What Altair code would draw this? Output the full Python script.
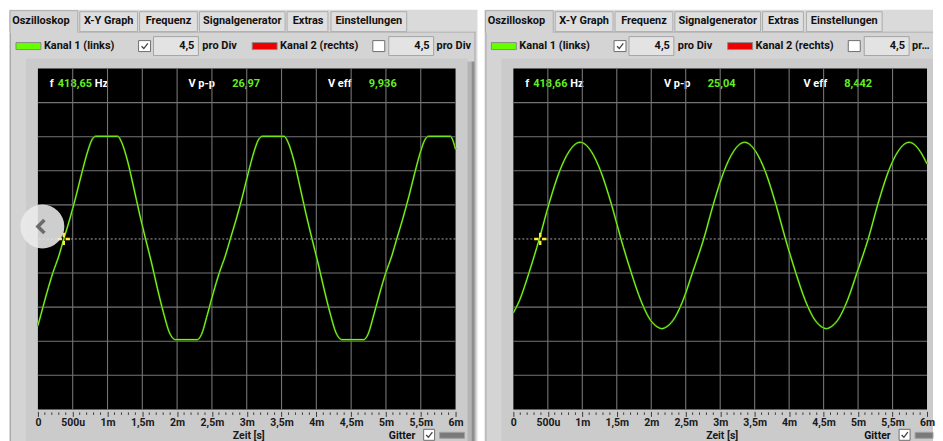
import altair as alt
import pandas as pd

# ---------------- data ----------------
# time in ms, voltage in V (4,5 V per division, 10 divisions)
left_t = [0.000, 0.043, 0.129, 0.215, 0.301, 0.372, 0.458, 0.544, 0.630, 0.716, 0.773, 0.831,
          1.146, 1.203, 1.289, 1.375, 1.461, 1.547, 1.633, 1.718, 1.804, 1.890, 1.976,
          2.291, 2.349, 2.434, 2.520, 2.606, 2.692, 2.764, 2.850, 2.936, 3.021, 3.107, 3.165, 3.222,
          3.537, 3.594, 3.680, 3.766, 3.852, 3.938, 4.024, 4.110, 4.196, 4.282, 4.368,
          4.683, 4.740, 4.826, 4.912, 4.998, 5.084, 5.155, 5.241, 5.327, 5.413, 5.499, 5.556, 5.613,
          5.928, 5.971, 6.000]
left_v = [-11.45, -10.0, -7.11, -4.47, -2.24, 0.0, 2.63, 5.53, 8.68, 11.58, 13.03, 13.55,
          13.55, 12.76, 10.26, 6.84, 3.29, 0.0, -3.16, -6.58, -9.74, -12.37, -13.29,
          -13.29, -12.63, -10.0, -7.11, -4.47, -2.24, 0.0, 2.63, 5.53, 8.68, 11.58, 13.03, 13.55,
          13.55, 12.76, 10.26, 6.84, 3.29, 0.0, -3.16, -6.58, -9.74, -12.37, -13.29,
          -13.29, -12.63, -10.0, -7.11, -4.47, -2.24, 0.0, 2.63, 5.53, 8.68, 11.58, 13.03, 13.55,
          13.55, 12.76, 11.84]
right_t = [0.000, 0.087, 0.231, 0.376, 0.520, 0.665, 0.810, 0.896, 0.969, 1.041, 1.128, 1.272,
           1.417, 1.561, 1.706, 1.851, 1.995, 2.082, 2.154, 2.226, 2.313, 2.458, 2.602, 2.761,
           2.906, 3.050, 3.195, 3.282, 3.354, 3.426, 3.513, 3.658, 3.802, 3.947, 4.092, 4.236,
           4.381, 4.467, 4.540, 4.612, 4.699, 4.843, 4.988, 5.147, 5.292, 5.436, 5.581, 5.668,
           5.740, 5.812, 5.899, 6.000]
right_v = [-9.74, -8.16, -4.34, 0.0, 4.74, 8.82, 11.58, 12.50, 12.76, 12.50, 11.58, 8.82,
           4.74, 0.0, -4.34, -8.16, -10.79, -11.58, -11.84, -11.58, -10.79, -8.16, -4.34, 0.0,
           4.74, 8.82, 11.58, 12.50, 12.76, 12.50, 11.58, 8.82, 4.74, 0.0, -4.34, -8.16,
           -10.79, -11.58, -11.84, -11.58, -10.79, -8.16, -4.34, 0.0, 4.74, 8.82, 11.58, 12.50,
           12.76, 12.50, 11.58, 9.9]

x_major = [0, 0.5, 1, 1.5, 2, 2.5, 3, 3.5, 4, 4.5, 5, 5.5, 6]
x_labels = ["0", "500u", "1m", "1,5m", "2m", "2,5m", "3m", "3,5m", "4m", "4,5m", "5m", "5,5m", "6m"]
x_minor = [round(i * 0.1, 1) for i in range(61) if i % 5]
v_grid = [-18, -13.5, -9, -4.5, 4.5, 9, 13.5, 18]
t_grid = [0.5, 1, 1.5, 2, 2.5, 3, 3.5, 4, 4.5, 5, 5.5]

tabs = ["Oszilloskop", "X-Y Graph", "Frequenz", "Signalgenerator", "Extras", "Einstellungen"]
freq = ["418,65", "418,66"]
vpp = ["26,97", "25,04"]
veff = ["9,936", "8,442"]
per_div = ["4,5", "4,5"]
cursor_t = [0.372, 0.39]
x_title = "Zeit [s]"

FONT = "Roboto"
H = 342
BOTTOM = 374          # lowest pixel row of the canvas, relative to plot top
GREEN = "#66ee22"
xs = alt.Scale(domain=[0, 6], nice=False, zero=False)
ys = alt.Scale(domain=[-22.5, 22.5], nice=False, zero=False)
label_expr = "[" + ",".join("'%s'" % s for s in x_labels) + "][round(datum.value*2)]"
X_AXIS = alt.Axis(
    values=x_major, labelExpr=label_expr, grid=False, domain=False, tickSize=5,
    tickColor="#3a3a3a", tickWidth=1, offset=2, labelFont=FONT, labelFontWeight="bold",
    labelFontSize=10.5, labelColor="#1a1a1a", labelPadding=1, labelFlush=False,
    labelOverlap=False, title=None, zindex=2)


def X():
    return alt.X("t:Q", scale=xs, axis=X_AXIS)


def Y():
    return alt.Y("v:Q", scale=ys, axis=None)


def rect_layer(rows):
    df = pd.DataFrame(rows, columns=["x", "x2", "y", "y2", "fill", "stroke"])
    return alt.Chart(df).mark_rect(strokeWidth=1).encode(
        x=alt.X("x:Q", scale=None, axis=None), x2="x2:Q",
        y=alt.Y("y:Q", scale=None, axis=None), y2="y2:Q",
        fill=alt.Fill("fill:N", scale=None, legend=None),
        stroke=alt.Stroke("stroke:N", scale=None, legend=None),
    )


def text_layer(rows, align, baseline="middle", limit=None):
    df = pd.DataFrame(rows, columns=["x", "y", "label", "color", "size"])
    kw = dict(align=align, baseline=baseline, font=FONT, fontWeight="bold")
    if limit:
        kw.update(limit=limit, ellipsis="")
    return alt.Chart(df).mark_text(**kw).encode(
        x=alt.X("x:Q", scale=None, axis=None),
        y=alt.Y("y:Q", scale=None, axis=None),
        text="label:N",
        color=alt.Color("color:N", scale=None, legend=None),
        size=alt.Size("size:Q", scale=None, legend=None),
    )


def shape_layer(rows, path, size, color, sw):
    df = pd.DataFrame(rows, columns=["x", "y"])
    return alt.Chart(df).mark_point(shape=path, size=size, filled=False, color=color,
                                    strokeWidth=sw, opacity=1).encode(
        x=alt.X("x:Q", scale=None, axis=None),
        y=alt.Y("y:Q", scale=None, axis=None),
    )


def panel(i, wt, wv, w, clip, overlay):
    R = w + 12
    T = "transparent"
    raw = [
        (-29, R + 10, -59, BOTTOM, "#dadada", T),
        (-28, R + 8, -37, BOTTOM, "#d4d4d4", T),
        (-28, -27, -37, BOTTOM, "#a8a8a8", T),
        (-28, R + 8, -37, -36, "#a8a8a8", T),
        (R + 7, R + 8, -37, BOTTOM, "#a8a8a8", T),
        (-12, R, -10, BOTTOM, "#cbcbcb", T),
        (R, R + 4, -7, BOTTOM, "#b4b4b4", T),
        (R + 4, R + 7, -7, BOTTOM, "#8e8e8e", T),
    ]
    tab_x = [(-28, 40), (42, 100), (102, 160), (162, 248), (250, 291), (294, 370)]
    for k, (a, b) in enumerate(tab_x):
        if k:
            raw.append((a, b, -57, -37, "#dfdfdf", "#acacac"))
    raw.append((tab_x[0][0], tab_x[0][1], -58, -36.5, "#d4d4d4", "#acacac"))
    raw.append((tab_x[0][0] + 0.5, tab_x[0][1] - 0.5, -38, -35.5, "#d4d4d4", T))
    raw += [
        (-22, 3, -26, -19, "#66ff00", "#8a8a8a"),
        (101, 113, -28, -17, "#ffffff", "#6e6e6e"),
        (116, 161, -32, -13, "#e3e3e3", "#a4a4a4"),
        (215, 240, -26, -19, "#ee0000", "#8a8a8a"),
        (336, 348, -28, -17, "#ffffff", "#6e6e6e"),
        (352, 397, -32, -13, "#e3e3e3", "#a4a4a4"),
        (387, 398, 362, 373, "#ffffff", "#6e6e6e"),
        (403, 428, 365, 371, "#7a7a7a", "#a0a0a0"),
        (0, w, 0, H, "#000000", T),
    ]
    rects = []
    for (a, b, c, d, f, s) in raw:
        b = min(b, clip)
        if b > a:
            rects.append((a, b, c, d, f, s))

    centers = [3, 71, 131, 205, 271, 332]
    center_txt = [(c, -47.5, t, "#111111", 11) for c, t in zip(centers, tabs)]
    left_txt = [
        (6, -22.5, "Kanal 1 (links)", "#111111", 11),
        (165, -22.5, "pro Div", "#111111", 11),
        (243, -22.5, "Kanal 2 (rechts)", "#111111", 11),
        (12, 16, "f", "#ffffff", 11),
        (20, 16, freq[i], GREEN, 11),
        (57, 16, "Hz", "#ffffff", 11),
        (151, 16, "V p-p", "#ffffff", 11),
        (195, 16, vpp[i], GREEN, 11),
        (291, 16, "V eff", "#ffffff", 11),
        (332, 16, veff[i], GREEN, 11),
    ]
    right_txt = [(157, -22.5, per_div[0], "#111111", 11), (393, -22.5, per_div[1], "#111111", 11)]
    bottom_left = [(352, 372, "Gitter", "#111111", 10.5)]
    bottom_center = [(w / 2 + 2, 372, x_title, "#1a1a1a", 10.5)]

    wave = pd.DataFrame({"t": wt, "v": wv})
    layers = [rect_layer(rects), text_layer(center_txt, "center"),
              text_layer(left_txt, "left"), text_layer(right_txt, "right"),
              text_layer([(400, -22.5, "pro Div", "#111111", 11)], "left",
                         limit=max(1, min(60, clip - 400))),
              text_layer(bottom_left, "left", "alphabetic"),
              text_layer(bottom_center, "center", "alphabetic")]
    check = "M-0.6,0.05L-0.15,0.5L0.65,-0.55"
    layers.append(shape_layer([(107, -22.5), (392.5, 367.5)], check, 100, "#444444", 1.3))

    grid_col = "#747474"
    layers.append(alt.Chart(pd.DataFrame({"t": t_grid})).mark_rule(color=grid_col, strokeWidth=1.1)
                  .encode(x=X()))
    layers.append(alt.Chart(pd.DataFrame({"v": v_grid})).mark_rule(color=grid_col, strokeWidth=1.1)
                  .encode(y=Y()))
    layers.append(alt.Chart(pd.DataFrame({"v": [0]})).mark_rule(color="#a8a8a8", strokeWidth=1,
                                                                  strokeDash=[2, 2])
                  .encode(y=Y()))
    layers.append(alt.Chart(pd.DataFrame({"t": x_minor})).mark_rule(color="#3a3a3a", strokeWidth=1)
                  .encode(x=X(), y=alt.value(H + 3), y2=alt.value(H + 5.5)))
    layers.append(alt.Chart(wave).mark_line(color="#2d7200", strokeWidth=2.0, interpolate="monotone")
                  .encode(x=X(), y=Y()))
    layers.append(alt.Chart(wave).mark_line(color="#8cff22", strokeWidth=1.0, interpolate="monotone")
                  .encode(x=X(), y=Y()))
    cross = "M-1,0L-0.3,0M0.3,0L1,0M0,-1L0,-0.3M0,0.3L0,1"
    layers.append(alt.Chart(pd.DataFrame({"t": [cursor_t[i]], "v": [0]}))
                  .mark_point(shape=cross, size=150, filled=False, color="#ffee33", strokeWidth=2.4,
                              opacity=1)
                  .encode(x=X(), y=Y()))
    if overlay:
        layers.append(alt.Chart(pd.DataFrame({"x": [4.5], "y": [158.5]}))
                      .mark_point(shape="circle", size=1936, filled=True, color="#ebebeb",
                                  opacity=0.88, strokeWidth=0)
                      .encode(x=alt.X("x:Q", scale=None, axis=None),
                              y=alt.Y("y:Q", scale=None, axis=None)))
        layers.append(shape_layer([(3.5, 158.5)], "M0.3,-0.65L-0.35,0L0.3,0.65", 400,
                                  "#6b6b6b", 3.5))
    return alt.layer(*layers).properties(width=w, height=H)


left = panel(0, left_t, left_v, 419, 441, True)
right = panel(1, right_t, right_v, 415, 421, False)

chart = alt.hconcat(left, right, spacing=58, bounds="flush").properties(
    padding=0, background="white"
).configure_view(stroke=None)

chart.save("out.html", embed_options={"renderer": "svg", "actions": False})
